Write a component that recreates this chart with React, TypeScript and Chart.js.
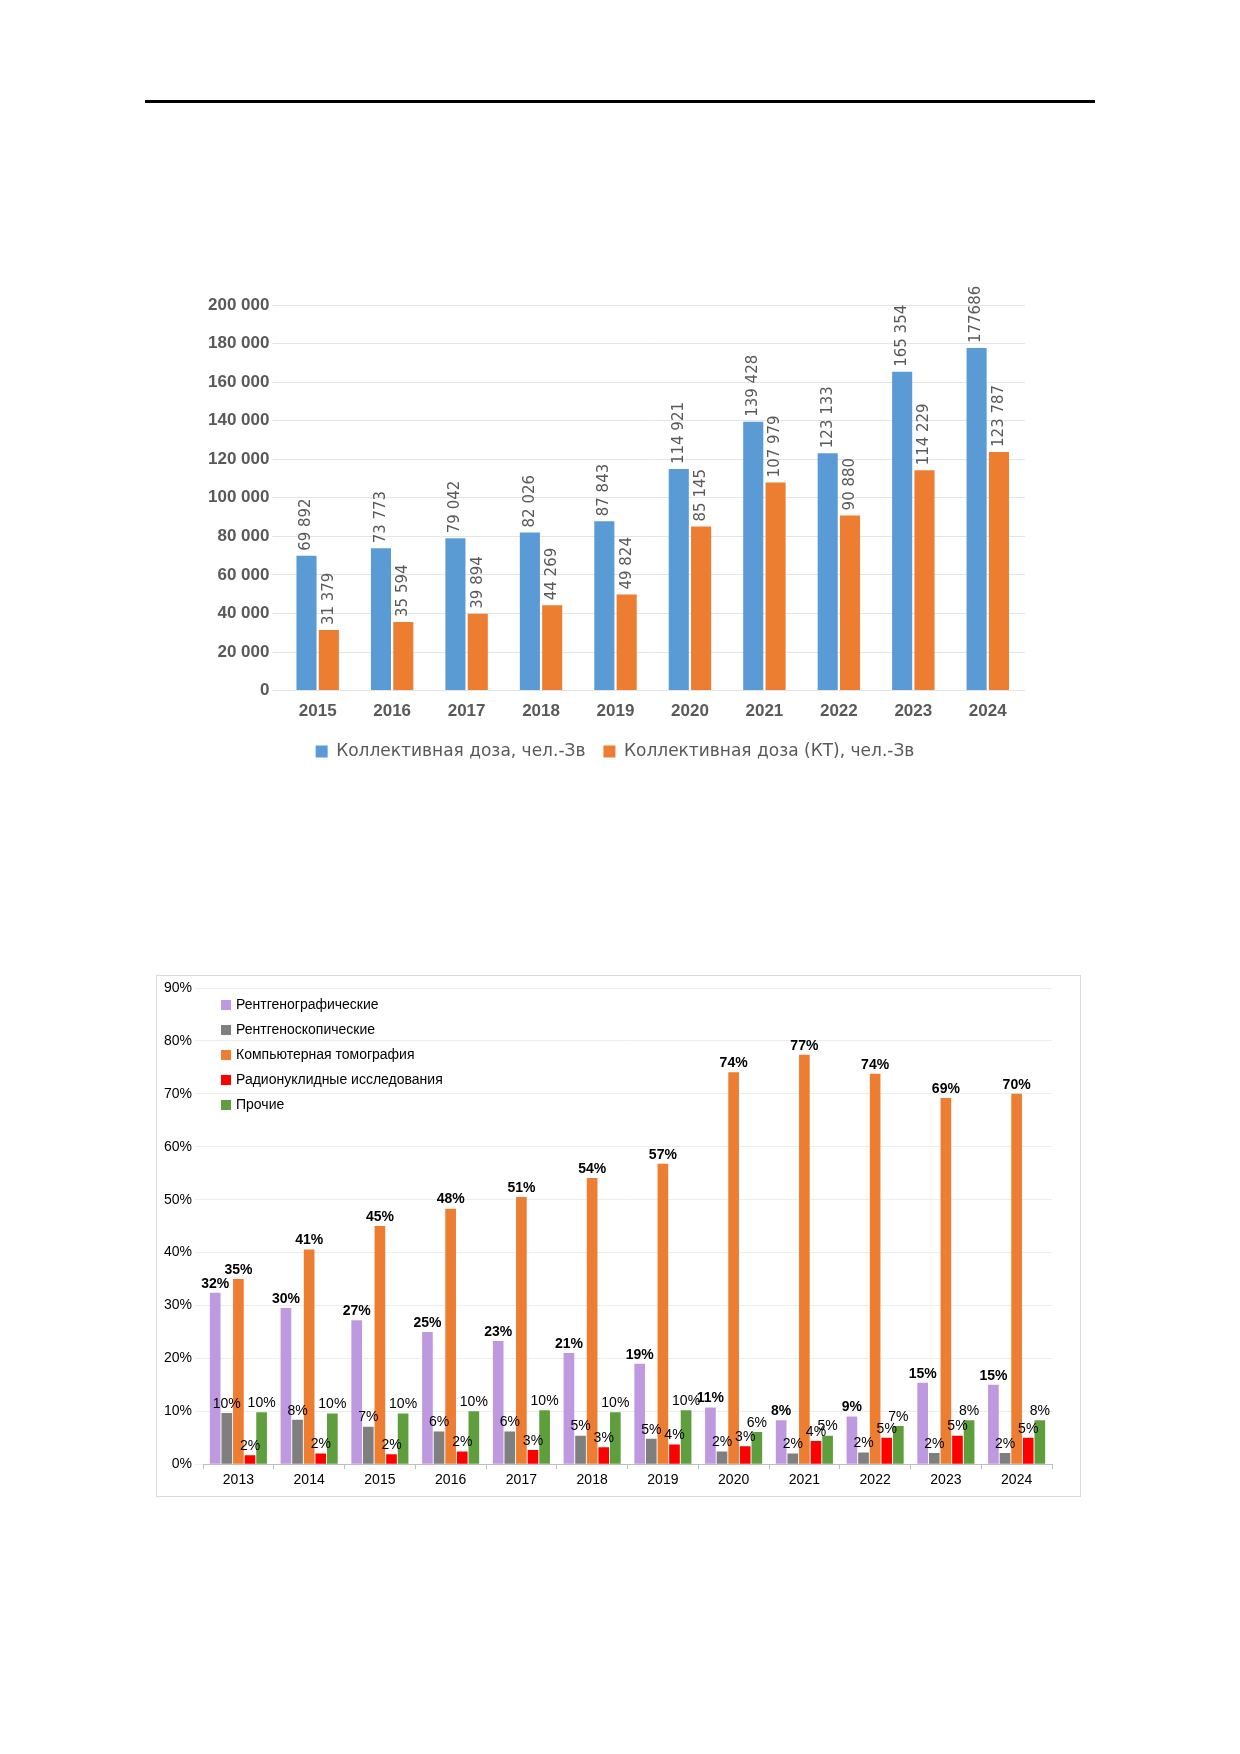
import React, { useEffect, useRef } from "react";
import { Chart, registerables } from "chart.js";
Chart.register(...registerables);

const years1 = ["2015","2016","2017","2018","2019","2020","2021","2022","2023","2024"];
const doseTotal = [69892,73773,79042,82026,87843,114921,139428,123133,165354,177686];
const doseCT = [31379,35594,39894,44269,49824,85145,107979,90880,114229,123787];
const doseTotalLabels = ["69 892","73 773","79 042","82 026","87 843","114 921","139 428","123 133","165 354","177686"];
const doseCTLabels = ["31 379","35 594","39 894","44 269","49 824","85 145","107 979","90 880","114 229","123 787"];

const years2 = ["2013","2014","2015","2016","2017","2018","2019","2020","2021","2022","2023","2024"];
const xray = [32.4,29.5,27.2,25,23.3,21,19,10.7,8.3,9,15.4,15];
const fluoro = [9.7,8.4,7.1,6.2,6.2,5.4,4.8,2.4,2,2.2,2.1,2.1];
const ct = [35,40.6,45,48.3,50.5,54.1,56.8,74.1,77.4,73.8,69.2,70];
const nuclear = [1.7,2,1.9,2.4,2.7,3.2,3.7,3.4,4.4,5,5.4,5];
const other = [9.8,9.6,9.6,10,10.2,9.8,10.2,6.1,5.4,7.2,8.3,8.3];

const NARROW = "'Liberation Sans Narrow', 'Liberation Sans', sans-serif";
const SANS = "'DejaVu Sans', 'Open Sans', sans-serif";

function DoseChart() {
  const ref = useRef<HTMLCanvasElement>(null);
  useEffect(() => {
    const labelsPlugin = {
      id: "vlabels",
      afterDatasetsDraw(chart: any) {
        const ctx = chart.ctx;
        const sets = [doseTotalLabels, doseCTLabels];
        chart.data.datasets.forEach((_: any, di: number) => {
          chart.getDatasetMeta(di).data.forEach((bar: any, i: number) => {
            ctx.save();
            ctx.translate(bar.x, bar.y - 5);
            ctx.rotate(-Math.PI / 2);
            ctx.font = `15px ${SANS}`;
            ctx.fillStyle = "#595959";
            ctx.textAlign = "left";
            ctx.textBaseline = "middle";
            ctx.fillText(sets[di][i], 0, 0);
            ctx.restore();
          });
        });
      },
    };
    const c = new Chart(ref.current!, {
      type: "bar",
      data: {
        labels: years1,
        datasets: [
          { label: "Коллективная доза, чел.-Зв", data: doseTotal, backgroundColor: "#5B9BD5" },
          { label: "Коллективная доза (КТ), чел.-Зв", data: doseCT, backgroundColor: "#ED7D31" },
        ],
      },
      options: {
        animation: false,
        responsive: false,
        layout: { padding: { top: 35, right: 30, left: 10 } },
        datasets: { bar: { categoryPercentage: 0.6, barPercentage: 0.9 } } as any,
        scales: {
          x: {
            grid: { display: false },
            border: { display: false },
            ticks: { color: "#595959", font: { family: NARROW, size: 17, weight: "bold" } },
          },
          y: {
            min: 0, max: 200000,
            ticks: {
              stepSize: 20000,
              color: "#595959",
              font: { family: NARROW, size: 17, weight: "bold" },
              callback: (v: any) => Number(v).toLocaleString("ru-RU").replace(/\s/g, " "),
            },
            grid: { color: "#E4E4E4" },
            border: { display: false },
          },
        },
        plugins: {
          legend: {
            position: "bottom",
            labels: { color: "#595959", font: { family: SANS, size: 17 }, boxWidth: 12, boxHeight: 12, padding: 18 },
          },
          tooltip: { enabled: false },
        },
      } as any,
      plugins: [labelsPlugin],
    });
    return () => c.destroy();
  }, []);
  return <canvas ref={ref} width={860} height={500} style={{ position: "absolute", left: 195, top: 270 }} />;
}

function ShareChart() {
  const ref = useRef<HTMLCanvasElement>(null);
  useEffect(() => {
    const names = ["Рентгенографические","Рентгеноскопические","Компьютерная томография","Радионуклидные исследования","Прочие"];
    const colors = ["#BF99E0","#7F7F7F","#ED7D31","#FF0000","#5F9E3C"];
    const plugin = {
      id: "labels2",
      afterDatasetsDraw(chart: any) {
        const ctx = chart.ctx;
        chart.data.datasets.forEach((ds: any, di: number) => {
          const bold = di === 0 || di === 2;
          chart.getDatasetMeta(di).data.forEach((bar: any, i: number) => {
            ctx.save();
            ctx.font = `${bold ? "bold " : ""}14px ${NARROW}`;
            ctx.fillStyle = "#000";
            ctx.textAlign = "center";
            ctx.textBaseline = "bottom";
            ctx.fillText(Math.round(ds.data[i]) + "%", bar.x, bar.y - 2);
            ctx.restore();
          });
        });
        const a = chart.chartArea;
        ctx.save();
        ctx.font = `14px ${NARROW}`;
        ctx.textBaseline = "middle";
        names.forEach((n, k) => {
          const y = a.top + 17 + k * 25;
          ctx.fillStyle = colors[k];
          ctx.fillRect(a.left + 18, y - 5, 10, 10);
          ctx.fillStyle = "#000";
          ctx.fillText(n, a.left + 33, y);
        });
        ctx.restore();
      },
    };
    const sets = [xray, fluoro, ct, nuclear, other];
    const c = new Chart(ref.current!, {
      type: "bar",
      data: {
        labels: years2,
        datasets: sets.map((d, k) => ({ label: names[k], data: d, backgroundColor: colors[k] })),
      },
      options: {
        animation: false,
        responsive: false,
        layout: { padding: { top: 12, right: 28, left: 4, bottom: 4 } },
        datasets: { bar: { categoryPercentage: 0.82, barPercentage: 0.92 } } as any,
        scales: {
          x: {
            grid: { display: true, drawOnChartArea: false, offset: true, color: "#BFBFBF", tickLength: 5 },
            border: { color: "#BFBFBF" },
            ticks: { color: "#000", font: { family: NARROW, size: 14 } },
          },
          y: {
            min: 0, max: 90,
            ticks: { stepSize: 10, color: "#000", font: { family: NARROW, size: 14 }, callback: (v: any) => v + "%" },
            grid: { color: "#EDEDED" },
            border: { display: false },
          },
        },
        plugins: { legend: { display: false }, tooltip: { enabled: false } },
      } as any,
      plugins: [plugin],
    });
    return () => c.destroy();
  }, []);
  return (
    <div style={{ position: "absolute", left: 156, top: 975, width: 925, height: 522, border: "1px solid #D9D9D9", boxSizing: "border-box" }}>
      <canvas ref={ref} width={923} height={520} />
    </div>
  );
}

export default function App() {
  return (
    <div style={{ position: "absolute", left: 0, top: 0, width: 1240, height: 1754, background: "#fff" }}>
      <div style={{ position: "absolute", left: 145, top: 100, width: 950, height: 3, background: "#000" }} />
      <DoseChart />
      <ShareChart />
    </div>
  );
}
